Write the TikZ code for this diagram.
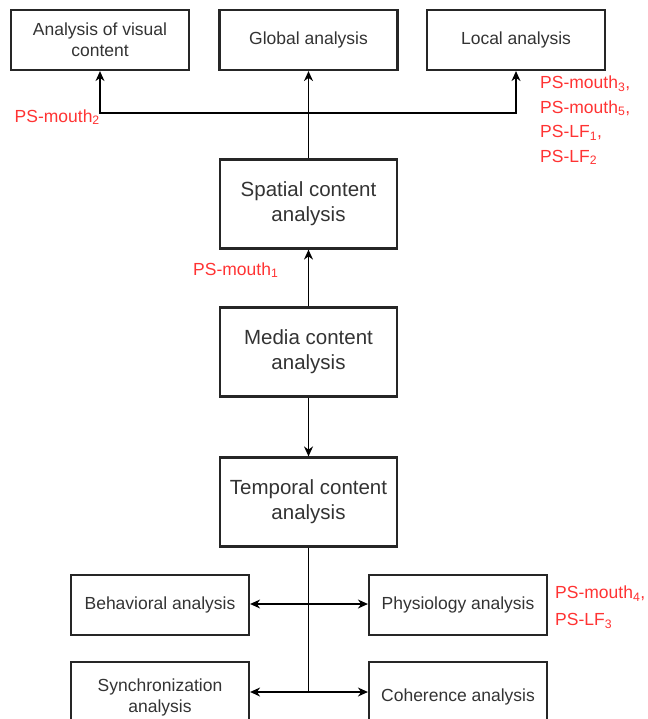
\documentclass[tikz,border=0pt]{standalone}
\usepackage{fontspec}
\setmainfont{Liberation Sans}
\usetikzlibrary{arrows.meta}
\definecolor{boxtext}{HTML}{333333}
\definecolor{pslabel}{HTML}{FF3333}

\tikzset{
box/.style={draw=black!85, line width=2.2pt, text=boxtext, align=center, inner sep=2pt},
smallbox/.style={box, minimum width=178pt, minimum height=60pt, font=\fontsize{17.5}{21}\selectfont},
bigbox/.style={box, minimum width=177pt, minimum height=89pt, font=\fontsize{20.5}{25}\selectfont},
pslab/.style={text=pslabel, font=\fontsize{17.5}{24.5}\selectfont, align=left, inner sep=0pt},
link/.style={line width=1.5pt, -{Stealth[length=10pt,width=9pt]}},
plain/.style={line width=1.5pt}
}

\begin{document}
\begin{tikzpicture}[x=1pt,y=-1pt]
\useasboundingbox (0,0) rectangle (647,719);
\clip (0,0) rectangle (647,719);

% top row
\node[smallbox] (vis) at (100,40) {Analysis of visual\\content};
\node[smallbox] (glob) at (308.5,40) {Global analysis};
\node[smallbox] (loc) at (516,40) {Local analysis};

% middle column
\node[bigbox] (spat) at (308.5,204) {Spatial content\\analysis};
\node[bigbox] (media) at (308.5,352) {Media content\\analysis};
\node[bigbox] (temp) at (308.5,502) {Temporal content\\analysis};

% bottom rows
\node[smallbox] (behav) at (160,605) {Behavioral analysis};
\node[smallbox] (phys) at (458,605) {Physiology analysis};
\node[smallbox, minimum height=70pt] (sync) at (160,697) {Synchronization\\analysis};
\node[smallbox, minimum height=70pt] (coh) at (458,697) {Coherence analysis};

\coordinate (jt) at (308.5,113);
\coordinate (ja) at (308.5,604);
\coordinate (jb) at (308.5,692);

\draw[link] (spat.north) -- (glob.south);
\draw[link] (jt) -| (vis.south);
\draw[link] (jt) -| (loc.south);
\draw[link] (media.north) -- (spat.south);
\draw[link] (media.south) -- (temp.north);
\draw[plain] (temp.south) -- (jb);
\draw[link] (ja) -- (behav.east |- ja);
\draw[link] (ja) -- (phys.west |- ja);
\draw[link] (jb) -- (sync.east |- jb);
\draw[link] (jb) -- (coh.west |- jb);

% labels
\node[pslab, anchor=east] (l2) at (100,117) {PS-mouth\textsubscript{2}};
\node[pslab, anchor=north west] (l3) at (540,76) {PS-mouth\textsubscript{3},\\PS-mouth\textsubscript{5},\\PS-LF\textsubscript{1},\\PS-LF\textsubscript{2}};
\node[pslab, anchor=west] (l1) at (193,270) {PS-mouth\textsubscript{1}};
\node[pslab, anchor=west, font=\fontsize{17.5}{27}\selectfont] (l4) at (555,607) {PS-mouth\textsubscript{4},\\PS-LF\textsubscript{3}};
\end{tikzpicture}
\end{document}
